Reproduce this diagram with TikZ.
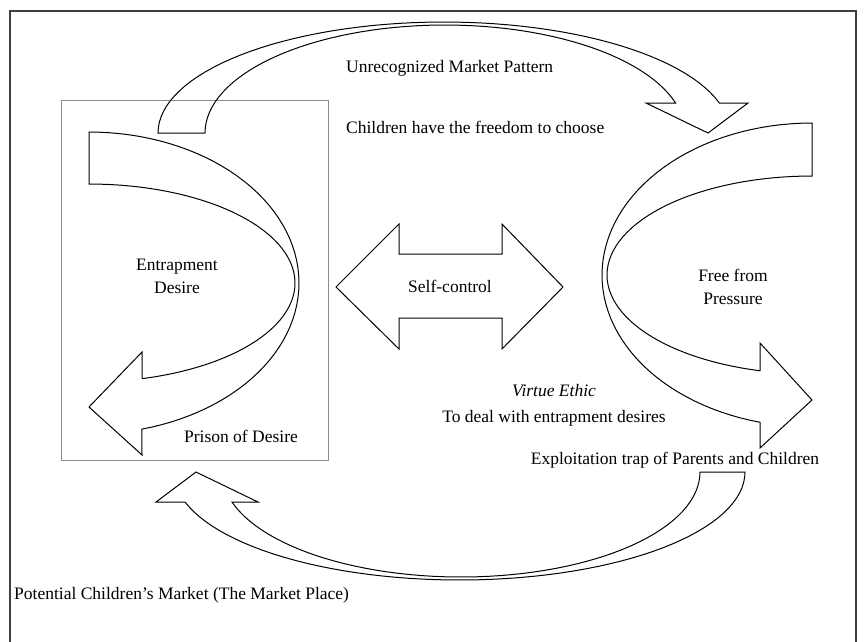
\documentclass[tikz,border=0pt]{standalone}
\usepackage{fontspec}
\setmainfont{Liberation Serif}
\begin{document}
\begin{tikzpicture}[x=1pt,y=-1pt,
  blockarrow/.style={draw=black, line width=1pt, line join=miter},
  lbl/.style={font=\fontsize{17.5}{23}\selectfont, inner sep=0pt, align=center}]
\useasboundingbox (0,0) rectangle (864,641);
\clip (0,0) rectangle (864,641);
% frame and box
\draw[line width=1.4pt, draw=black!75] (10,11) rectangle (856,660);
\draw[line width=0.9pt, draw=black!45] (61,100) rectangle (328,460);
% top arc
\draw[blockarrow] plot[domain=180:15.68, samples=60, variable=\t] ({444+286*cos(\t)},{133-111*sin(\t)})
  -- (748,103) -- (708,133) -- (646,103) -- (675,103)
  -- plot[domain=16.13:180, samples=60, variable=\t] ({445+240*cos(\t)},{133-108*sin(\t)}) -- cycle;
% left curved arrow
\draw[blockarrow] plot[domain=90:-75.4, samples=60, variable=\t] ({89+210*cos(\t)},{283-151*sin(\t)})
  -- (142,455) -- (89,407) -- (142,352) -- (142,378)
  -- plot[domain=-74.9:90, samples=60, variable=\t] ({89+206*cos(\t)},{283-99*sin(\t)}) -- cycle;
% right curved arrow
\draw[blockarrow] plot[domain=90:-75.66, samples=60, variable=\t] ({812-210*cos(\t)},{275-152*sin(\t)})
  -- (760,448) -- (812,400) -- (760,343) -- (760,371)
  -- plot[domain=-75.3:90, samples=60, variable=\t] ({812-205*cos(\t)},{275-99*sin(\t)}) -- cycle;
% double arrow
\draw[blockarrow] (336,287) -- (399,224) -- (399,254) -- (502,254) -- (502,224) -- (563,287)
  -- (502,349) -- (502,318) -- (399,318) -- (399,349) -- cycle;
% bottom arc
\draw[blockarrow] plot[domain=0:163.4, samples=60, variable=\t] ({461+239*cos(\t)},{472+105*sin(\t)})
  -- (258,502) -- (196,472) -- (156,502) -- (185,502)
  -- plot[domain=163.87:0, samples=60, variable=\t] ({459.4+285.6*cos(\t)},{472+108*sin(\t)}) -- cycle;
% labels
\node[lbl, anchor=west] (pattern) at (346,68) {Unrecognized Market Pattern};
\node[lbl, anchor=west] (freedom) at (346,127) {Children have the freedom to choose};
\node[lbl] (entrap) at (177,276) {Entrapment\\Desire};
\node[lbl] (free) at (733,287) {Free from\\Pressure};
\node[lbl] (selfc) at (450,286) {Self-control};
\node[lbl] (virtue) at (554,405) {\textit{Virtue Ethic}\\[3pt]To deal with entrapment desires};
\node[lbl] (prison) at (241,436) {Prison of Desire};
\node[lbl] (exploit) at (675,460) {Exploitation trap of Parents and Children};
\node[lbl, anchor=west] (market) at (14,595) {Potential Children’s Market (The Market Place)};
\end{tikzpicture}
\end{document}
